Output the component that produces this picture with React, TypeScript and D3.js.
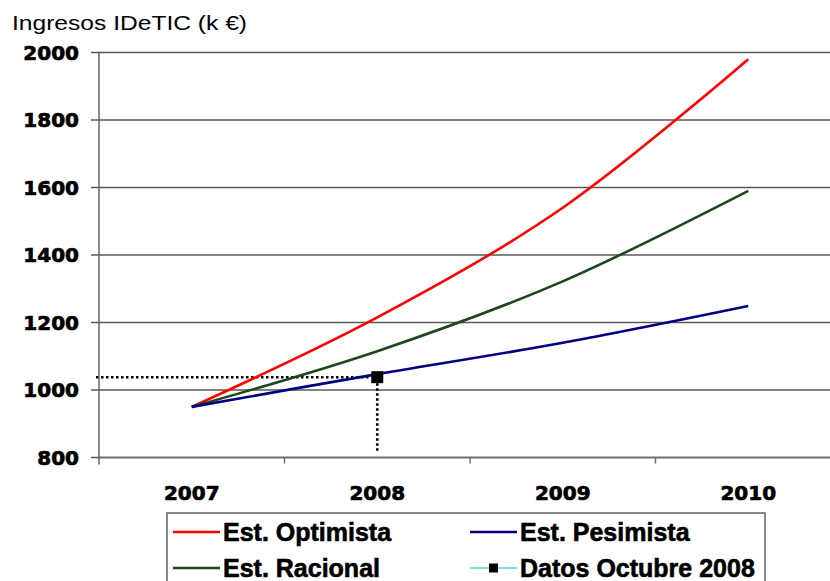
import React from "react";
import * as d3 from "d3";

// Categories and series (k €)
const years = ["2007", "2008", "2009", "2010"];
const optimista = [950, 1215, 1540, 1980];
const racional = [950, 1115, 1322, 1590];
const pesimista = [950, 1047, 1140, 1249];

// October 2008 actual figure and its drop line floor
const datosYear = "2008";
const datosValue = 1038;
const dropFloor = 815;

const yTicks = [800, 1000, 1200, 1400, 1600, 1800, 2000];

const series = [
  { name: "Est. Optimista", values: optimista, color: "#ff0000" },
  { name: "Est. Racional", values: racional, color: "#1d471d" },
  { name: "Est. Pesimista", values: pesimista, color: "#000080" },
];

const W = 830;
const H = 581;
const left = 99;
const right = 841; // plot area runs past the frame edge
const top = 52.5;
const bottom = 457.5;

const AXIS_FONT = "'DejaVu Sans', sans-serif";
const LEGEND_FONT = "'Liberation Sans', Arial, sans-serif";

export default function App() {
  const x = d3.scaleBand<string>().domain(years).range([left, right]);
  const cx = (yr: string) => (x(yr) as number) + x.bandwidth() / 2;
  const y = d3.scaleLinear().domain([800, 2000]).range([bottom, top]);

  const line = d3
    .line<number>()
    .x((_, i) => cx(years[i]))
    .y((v) => y(v))
    .curve(d3.curveCatmullRom.alpha(0.5));

  const bandEdges = years.slice(1).map((yr) => x(yr) as number);

  const mx = cx(datosYear);
  const my = y(datosValue);
  const mSize = 12;

  // legend layout
  const legX = 167;
  const legY = 513;
  const legW = 598;
  const rows = [532, 568];
  const cols = [173, 470];
  const legendItems = [
    { label: series[0].name, color: series[0].color, col: 0, row: 0, marker: false },
    { label: series[2].name, color: series[2].color, col: 1, row: 0, marker: false },
    { label: series[1].name, color: series[1].color, col: 0, row: 1, marker: false },
    { label: "Datos Octubre 2008", color: "#7fe0e0", col: 1, row: 1, marker: true },
  ];

  const boldLabel = {
    fontFamily: AXIS_FONT,
    fontWeight: "bold" as const,
    fontSize: 20,
    fill: "#000",
    stroke: "#000",
    strokeWidth: 0.7,
  };

  return (
    <svg
      width={W}
      height={H}
      style={{ position: "absolute", left: 0, top: 0, background: "#fff" }}
    >
      <rect x={0} y={0} width={W} height={H} fill="#fff" />
      <text
        x={12}
        y={30}
        fontFamily={LEGEND_FONT}
        fontSize={20}
        fill="#000"
        textLength={235}
        lengthAdjust="spacingAndGlyphs"
      >
        Ingresos IDeTIC (k €)
      </text>

      {/* horizontal gridlines with left tick stubs */}
      {yTicks.map((t) => (
        <g key={t}>
          <line
            x1={left - 8}
            x2={W}
            y1={y(t)}
            y2={y(t)}
            stroke="#5a5a5a"
            strokeWidth={1.4}
          />
          <text x={79} y={y(t)} dy="0.36em" textAnchor="end" {...boldLabel}>
            {t}
          </text>
        </g>
      ))}

      {/* axes */}
      <line x1={left} x2={left} y1={top} y2={bottom + 7} stroke="#5a5a5a" strokeWidth={1.4} />
      <line x1={left} x2={W} y1={bottom} y2={bottom} stroke="#6a6a6a" strokeWidth={1.6} />
      {bandEdges.map((bx) => (
        <line key={bx} x1={bx} x2={bx} y1={bottom} y2={bottom + 6} stroke="#6a6a6a" strokeWidth={1.4} />
      ))}
      {years.map((yr) => (
        <text key={yr} x={cx(yr)} y={500} textAnchor="middle" {...boldLabel}>
          {yr}
        </text>
      ))}

      {/* dotted reference lines to the October 2008 figure */}
      <line
        x1={left - 3}
        x2={mx - mSize / 2}
        y1={my}
        y2={my}
        stroke="#000"
        strokeWidth={2.6}
        strokeDasharray="2.5 2.5"
      />
      <line
        x1={mx}
        x2={mx}
        y1={my + mSize / 2}
        y2={y(dropFloor)}
        stroke="#000"
        strokeWidth={2.6}
        strokeDasharray="2.5 2.5"
      />

      {/* estimate curves */}
      {series.map((s) => (
        <path
          key={s.name}
          d={line(s.values) as string}
          fill="none"
          stroke={s.color}
          strokeWidth={2.6}
          strokeLinejoin="round"
        />
      ))}

      <rect x={mx - mSize / 2} y={my - mSize / 2} width={mSize} height={mSize} fill="#000" />

      {/* legend */}
      <rect x={legX} y={legY} width={legW} height={120} fill="#fff" stroke="#6a6a6a" strokeWidth={1.6} />
      {legendItems.map((it) => {
        const lx = cols[it.col];
        const ly = rows[it.row];
        return (
          <g key={it.label}>
            <line
              x1={lx}
              x2={lx + 47}
              y1={ly}
              y2={ly}
              stroke={it.color}
              strokeWidth={it.marker ? 2 : 2.6}
            />
            {it.marker && (
              <rect x={lx + 19} y={ly - 4.5} width={9} height={9} fill="#000" />
            )}
            <text
              x={lx + 50}
              y={ly}
              dy="0.36em"
              fontFamily={LEGEND_FONT}
              fontWeight="bold"
              fontSize={25}
              fill="#000"
              stroke="#000"
              strokeWidth={0.6}
            >
              {it.label}
            </text>
          </g>
        );
      })}
    </svg>
  );
}
